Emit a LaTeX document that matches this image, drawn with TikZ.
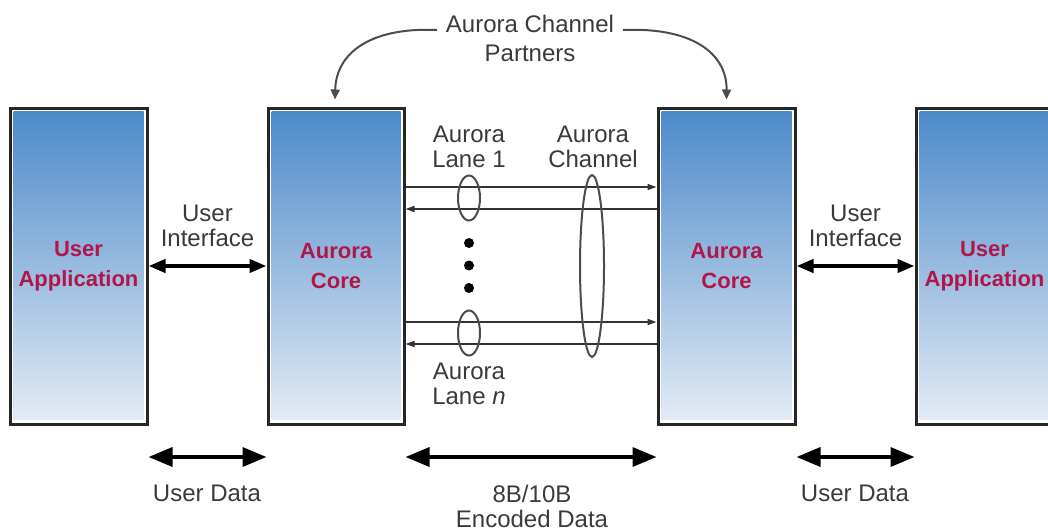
\documentclass[tikz,border=0pt]{standalone}
\usepackage{fontspec}
\setmainfont{Liberation Sans}
\usetikzlibrary{arrows.meta,shapes.geometric,calc}
\definecolor{boxtop}{HTML}{4C89C9}
\definecolor{boxbot}{HTML}{E4ECF6}
\definecolor{lbl}{HTML}{B0164A}
\definecolor{txt}{HTML}{3A3A3A}
\begin{document}
\begin{tikzpicture}[x=1pt,y=-1pt,
  blk/.style={draw=black!85,line width=3pt,fill=white,minimum width=137pt,minimum height=316pt,
    inner sep=0pt,align=center,text=lbl,font=\fontsize{22}{30}\selectfont\bfseries,
    path picture={\shade[top color=boxtop,bottom color=boxbot]
      ([shift={(3.5pt,-3.5pt)}]path picture bounding box.north west) rectangle
      ([shift={(-3.5pt,4.5pt)}]path picture bounding box.south east);}},
  txt/.style={text=txt,font=\fontsize{24}{25}\selectfont,align=center,inner sep=0pt},
  big/.style={line width=3.5pt,{Triangle[length=24pt,width=19pt]}-{Triangle[length=24pt,width=19pt]}},
  ui/.style={line width=4pt,{Triangle[length=17pt,width=13pt]}-{Triangle[length=17pt,width=13pt]}},
  lane/.style={line width=1.6pt,draw=black!80},
  tipR/.style={lane,-{Triangle[length=9pt,width=6pt]}},
  tipL/.style={lane,{Triangle[length=9pt,width=6pt]}-},
  ring/.style={draw=black!70,line width=2pt,ellipse,inner sep=0pt},
  curv/.style={draw=black!70,line width=2pt,-{Triangle[length=10pt,width=9pt]}},
  dotn/.style={circle,fill=black,inner sep=0pt,minimum size=10pt}
]
\useasboundingbox (0,0) rectangle (1048,530);

% boxes
\node[blk] (ua1) at (78.5,266) {User\\Application};
\node[blk,minimum width=136pt] (ac1) at (336,266) {Aurora\\Core};
\node[blk] (ac2) at (726.5,266) {Aurora\\Core};
\node[blk] (ua2) at (984.5,266) {User\\Application};

% user interface
\node[txt] (ui1) at (207.5,226) {User\\Interface};
\node[txt] (ui2) at (855.5,226) {User\\Interface};
\draw[ui] (ua1.east) -- (ac1.west);
\draw[ui] (ac2.east) -- (ua2.west);

% lanes
\coordinate (r1) at (0,187);
\coordinate (r2) at (0,209);
\coordinate (r3) at (0,322);
\coordinate (r4) at (0,344);
\draw[tipR] (ac1.east |- r1) -- (ac2.west |- r1);
\draw[tipL] (ac1.east |- r2) -- (ac2.west |- r2);
\draw[tipR] (ac1.east |- r3) -- (ac2.west |- r3);
\draw[tipL] (ac1.east |- r4) -- (ac2.west |- r4);

\node[ring,minimum width=22pt,minimum height=45pt] (lane1) at (469,198) {};
\node[ring,minimum width=22pt,minimum height=45pt] (lanen) at (469,333) {};
\node[ring,minimum width=24pt,minimum height=182pt] (chan) at (592,266) {};
\node[dotn] (d1) at (469,243) {};
\node[dotn] (d2) at (469,265.5) {};
\node[dotn] (d3) at (469,288) {};

\node[txt] (tl1) at (469,147) {Aurora\\Lane 1};
\node[txt] (tch) at (593,147) {Aurora\\Channel};
\node[txt] (tln) at (469,384) {Aurora\\Lane \textit{n}};

% partners
\node[txt,font=\fontsize{24}{29}\selectfont] (partners) at (530,38) {Aurora Channel\\Partners};
\coordinate (cl) at (437,30);
\coordinate (cr) at (623,30);
\draw[curv] (cl) .. controls (372,27) and (336,52) .. ([yshift=7pt]ac1.north -| 335,0);
\draw[curv] (cr) .. controls (690,27) and (727,52) .. ([yshift=7pt]ac2.north);

% bottom
\coordinate (b) at (0,457);
\draw[big] (ua1.east |- b) -- (ac1.west |- b);
\draw[big] (ac1.east |- b) -- (ac2.west |- b);
\draw[big] (ac2.east |- b) -- (ua2.west |- b);
\node[txt] (ud1) at (207,493) {User Data};
\node[txt] (enc) at (532,506) {8B/10B\\Encoded Data};
\node[txt] (ud2) at (855,493) {User Data};
\end{tikzpicture}
\end{document}
